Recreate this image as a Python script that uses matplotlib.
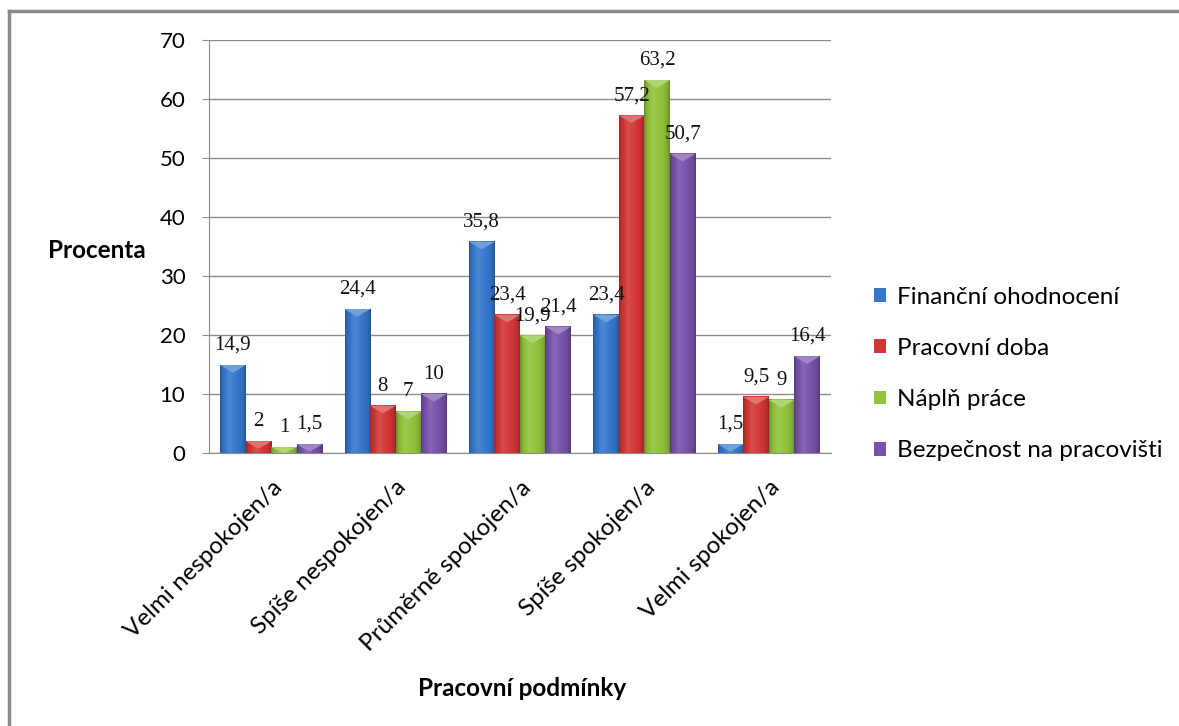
import numpy as np
import matplotlib
matplotlib.use("Agg")
import matplotlib.pyplot as plt
from matplotlib.patches import Patch, Polygon
from matplotlib.lines import Line2D
from matplotlib.colors import to_rgb

categories = ["Velmi nespokojen/a", "Spíše nespokojen/a", "Průměrně spokojen/a",
              "Spíše spokojen/a", "Velmi spokojen/a"]
series_names = ["Finanční ohodnocení", "Pracovní doba", "Náplň práce",
                "Bezpečnost na pracovišti"]
financni = [14.9, 24.4, 35.8, 23.4, 1.5]
doba = [2, 8, 23.4, 57.2, 9.5]
napln = [1, 7, 19.9, 63.2, 9]
bezpecnost = [1.5, 10, 21.4, 50.7, 16.4]
yticks = [0, 10, 20, 30, 40, 50, 60, 70]

series = [financni, doba, napln, bezpecnost]
colors = ["#3577cc", "#d23636", "#90c23a", "#7752ab"]

sans = ["Lato", "DejaVu Sans"]
serif = ["Liberation Serif", "DejaVu Serif"]


def shade(c, f):
    c = np.array(to_rgb(c))
    if f >= 1:
        return c + (1 - c) * (f - 1)
    return c * f


def gradient(c):
    # horizontal light profile across a bar: dark edges, highlight left of centre
    t = np.linspace(0, 1, 64)
    f = np.interp(t, [0, 0.08, 0.35, 0.8, 0.93, 1.0],
                  [0.72, 0.9, 1.12, 0.95, 0.85, 0.7])
    return np.array([[shade(c, v) for v in f]])


def fmt(v):
    return ("%g" % v).replace(".", ",")


fig = plt.figure(figsize=(11.79, 7.26), dpi=100)
ax = fig.add_axes([0.1773, 0.376, 0.5275, 0.569])

x = np.arange(len(categories))
w = 0.205
offsets = (np.arange(4) - 1.5) * w

for vals, col, off in zip(series, colors, offsets):
    bars = ax.bar(x + off, vals, w, color=col, zorder=2, linewidth=0)
    grad = gradient(col)
    for b, v in zip(bars, vals):
        x0 = b.get_x()
        x1 = x0 + b.get_width()
        h = b.get_height()
        ax.imshow(grad, extent=[x0, x1, 0, h], aspect="auto",
                  interpolation="bilinear", zorder=3)
        # bevel on the top face
        d = min(1.3, h)
        top = Polygon([(x0, h), (x1, h), ((x0 + x1) / 2, h - d)], closed=True,
                      facecolor=shade(col, 1.3), edgecolor="none", zorder=4)
        ax.add_patch(top)
        ax.annotate(fmt(v), (x0 + w / 2, h), xytext=(0, 11),
                    textcoords="offset points", ha="center", va="baseline",
                    fontsize=15, family=serif, color="#111111", zorder=5)

ax.set_xlim(-0.5, len(categories) - 0.5)
ax.set_ylim(0, 70)
ax.set_yticks(yticks)
ax.set_yticklabels([str(t) for t in yticks], family=sans, fontsize=16)
ax.set_xticks(x)
ax.set_xticklabels(categories, rotation=45, ha="right", va="top",
                   rotation_mode="anchor", family=sans, fontsize=17.5)
ax.yaxis.grid(True, color="#8c8c8c", linewidth=1)
ax.set_axisbelow(True)
for s in ["top", "right"]:
    ax.spines[s].set_visible(False)
for s in ["left", "bottom"]:
    ax.spines[s].set_color("#8c8c8c")
ax.tick_params(axis="y", length=5, color="#8c8c8c", pad=12)
ax.tick_params(axis="x", length=0, pad=17)

fig.text(48 / 1179, 1 - 250 / 726, "Procenta", family=sans, fontsize=17.5,
         fontweight="bold", ha="left", va="center")
fig.text(522 / 1179, 1 - 688 / 726, "Pracovní podmínky", family=sans,
         fontsize=17.5, fontweight="bold", ha="center", va="center")

handles = [Patch(facecolor=c, edgecolor="none") for c in colors]
fig.legend(handles, series_names, loc="center left",
           bbox_to_anchor=(874 / 1179, 1 - 374 / 726), frameon=False,
           prop={"family": sans, "size": 17.5}, handlelength=0.5,
           handleheight=0.5, handletextpad=0.45, labelspacing=1.24,
           borderpad=0, borderaxespad=0)

# outer chart frame
fig.add_artist(Line2D([9 / 1179, 1], [1 - 11 / 726] * 2, color="#8a8a8a",
                      linewidth=2.5, transform=fig.transFigure))
fig.add_artist(Line2D([9 / 1179] * 2, [0, 1 - 11 / 726], color="#8a8a8a",
                      linewidth=2.5, transform=fig.transFigure))

fig.savefig("out.png", dpi=100)
